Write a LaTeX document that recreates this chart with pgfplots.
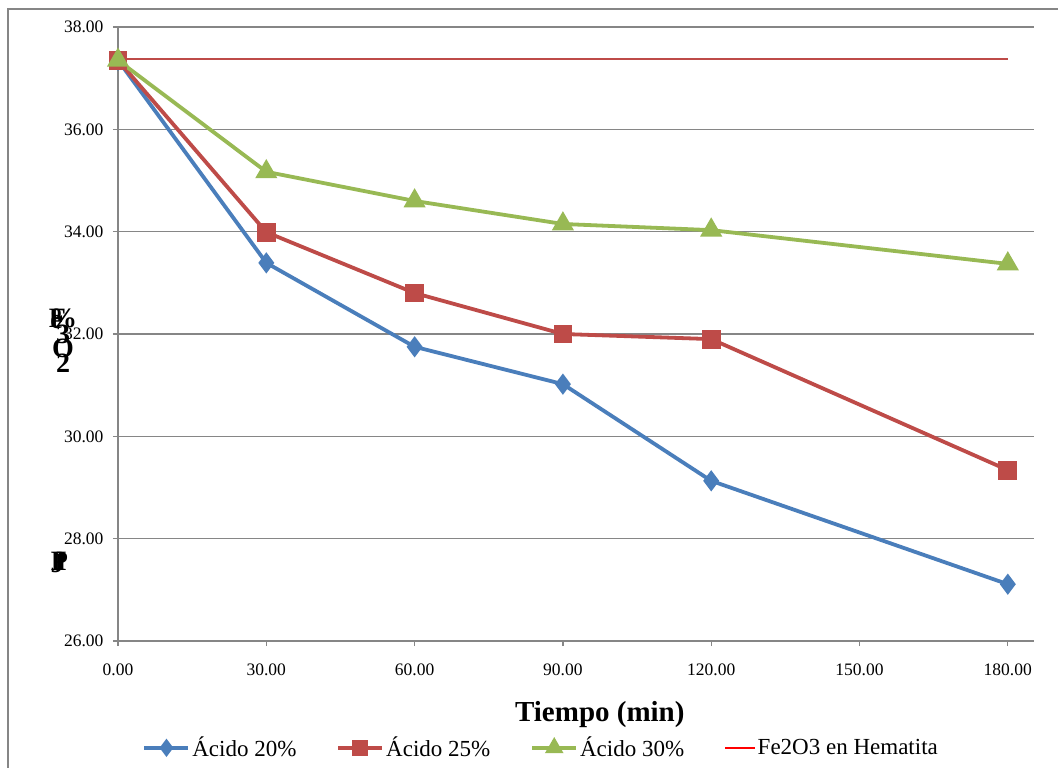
\documentclass[border=0pt]{standalone}
\usepackage{fontspec}
\setmainfont{Liberation Serif}
\usepackage{pgfplots}
\pgfplotsset{compat=1.18}
\definecolor{cblue}{HTML}{4A7EBB}
\definecolor{cred}{HTML}{BE4B48}
\definecolor{cgreen}{HTML}{98B954}
\definecolor{cgrid}{HTML}{868686}
\begin{document}
\begin{tikzpicture}
\useasboundingbox (0,0) rectangle (1058bp,768bp);
\clip (0,0) rectangle (1058bp,768bp);
\fill[white] (0,0) rectangle (1058bp,768bp);
\draw[cgrid, line width=1.5bp] (8bp,-20bp) rectangle (1080bp,759bp);
\begin{axis}[
  at={(118bp,127bp)}, anchor=south west,
  scale only axis, width=916bp, height=614bp,
  xmin=0, xmax=185.3, ymin=26, ymax=38,
  axis x line*=bottom, axis y line*=left,
  axis line style={cgrid, line width=1.5bp, -},
  xtick={0,30,60,90,120,150,180},
  ytick={26,28,30,32,34,36,38},
  tick style={cgrid, line width=1.2bp},
  major tick length=5bp,
  tick align=outside,
  ymajorgrids, grid style={cgrid, line width=1.5bp},
  /pgf/number format/assume math mode=true,
  /pgf/number format/.cd, fixed, fixed zerofill, precision=2, /pgfplots/.cd,
  tick label style={font=\fontsize{17.5bp}{20bp}\selectfont, text=black},
  xticklabel style={yshift=-14bp},
  yticklabel style={xshift=-6bp},
  clip=false,
  legend columns=4,
  legend style={at={(0.462,-0.174)}, anchor=center, draw=none, fill=none,
    font=\fontsize{23bp}{25bp}\selectfont,
    /tikz/every odd column/.append style={column sep=0bp},
    /tikz/every even column/.append style={column sep=38bp}},
  legend cell align=left,
  legend image code/.code={\draw[mark repeat=2,mark phase=2,#1] plot coordinates {(0bp,0bp) (22bp,0bp) (44bp,0bp)};},
]
\addplot[cred, line width=1.5bp, forget plot] coordinates {(0,37.37) (180,37.37)};
\addplot[cblue, line width=3.8bp, mark=diamond*, mark size=7.5bp, legend image post style={mark size=6bp}] coordinates {
 (0,37.35) (30,33.39) (60,31.75) (90,31.02) (120,29.13) (180,27.11)};
\addplot[cred, line width=3.8bp, mark=square*, mark size=7.5bp, legend image post style={mark size=6bp}] coordinates {
 (0,37.35) (30,33.99) (60,32.80) (90,32.00) (120,31.90) (180,29.34)};
\addplot[cgreen, line width=3.8bp, mark=triangle*, mark size=9bp, legend image post style={mark size=7bp}] coordinates {
 (0,37.35) (30,35.17) (60,34.60) (90,34.15) (120,34.03) (180,33.37)};
\addlegendimage{legend image code/.code={\draw[red, line width=1.5bp] (0bp,0bp) -- (30bp,0bp);}}
\legend{Ácido 20\%, Ácido 25\%, Ácido 30\%, Fe2O3 en Hematita}
\node[font=\bfseries\fontsize{29bp}{32bp}\selectfont, inner sep=0pt] at (axis description cs:0.526,-0.119) {Tiempo (min)};
\begin{scope}[every node/.style={font=\bfseries\fontsize{28bp}{30bp}\selectfont, inner sep=0pt}]
\node at (axis description cs:-0.066,0.526) {F};
\node at (axis description cs:-0.060,0.526) {\%};
\node at (axis description cs:-0.067,0.520) {e};
\node at (axis description cs:-0.060,0.500) {3};
\node at (axis description cs:-0.060,0.476) {O};
\node at (axis description cs:-0.060,0.452) {2};
\node at (axis description cs:-0.066,0.126) {J};
\node at (axis description cs:-0.064,0.130) {P};
\node at (axis description cs:-0.062,0.130) {I};
\end{scope}
\end{axis}
\end{tikzpicture}
\end{document}
